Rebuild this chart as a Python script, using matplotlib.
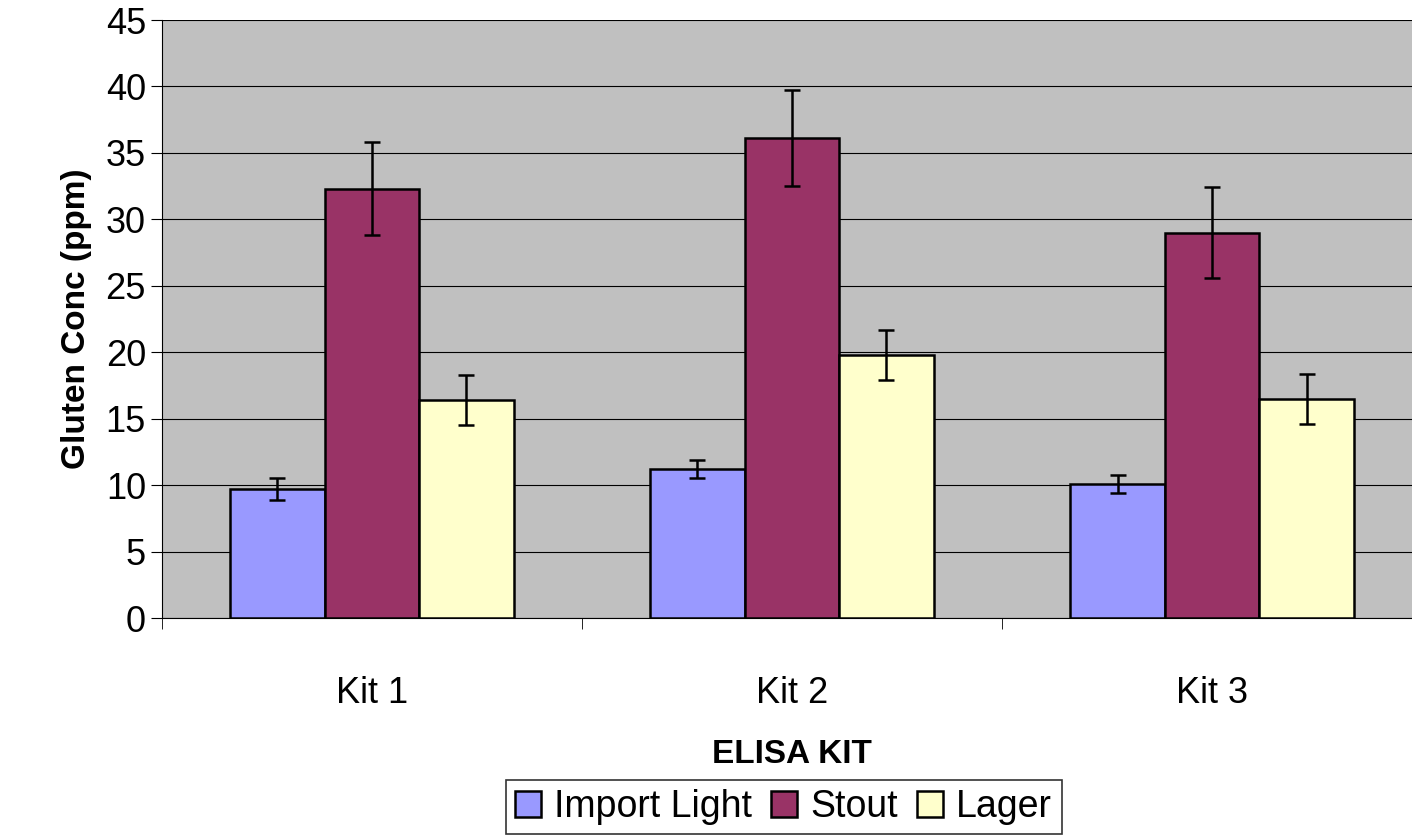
import numpy as np
import matplotlib.pyplot as plt

plt.rcParams['font.family'] = ['Liberation Sans', 'DejaVu Sans']

kits = ['Kit 1', 'Kit 2', 'Kit 3']
series = ['Import Light', 'Stout', 'Lager']
values = [[9.7, 11.2, 10.1], [32.3, 36.1, 29.0], [16.4, 19.8, 16.5]]
errors = [[0.8, 0.7, 0.7], [3.5, 3.6, 3.4], [1.9, 1.9, 1.9]]
colors = ['#9999ff', '#993366', '#ffffcc']

fig = plt.figure(figsize=(14.12, 8.38), dpi=100)
ax = fig.add_axes([0.1147, 0.2625, 0.8924, 0.7136])
ax.set_facecolor('#c0c0c0')

x = np.arange(len(kits))
w = 0.225
for i, s in enumerate(series):
    ax.bar(x + (i - 1) * w, values[i], w, yerr=errors[i], color=colors[i],
           edgecolor='black', linewidth=1.8, label=s, zorder=3,
           error_kw=dict(ecolor='black', elinewidth=1.8, capsize=6, capthick=1.8))

ax.set_xlim(-0.5, 2.5)
ax.set_ylim(0, 45)
ax.set_yticks(range(0, 46, 5))
ax.yaxis.grid(True, color='black', linewidth=0.8, zorder=0)
ax.set_xticks(x)
ax.set_xticklabels(kits)
ax.set_xticks([-0.5, 0.5, 1.5, 2.5], minor=True)
ax.tick_params(axis='x', which='major', length=0, pad=42, labelsize=26)
ax.tick_params(axis='x', which='minor', length=8, direction='out')
ax.tick_params(axis='y', labelsize=26, length=8, direction='out')
for sp in ['top', 'right']:
    ax.spines[sp].set_visible(False)
ax.set_ylabel('Gluten Conc (ppm)', fontsize=24, fontweight='bold', labelpad=10)
ax.set_xlabel('ELISA KIT', fontsize=24, fontweight='bold', labelpad=20)

leg = fig.legend(loc='lower center', bbox_to_anchor=(0.555, -0.018), ncol=3,
                 fontsize=27, frameon=True, fancybox=False, edgecolor='black',
                 handlelength=0.7, handleheight=0.7, handletextpad=0.35,
                 columnspacing=0.5, borderpad=0.25)
leg.get_frame().set_linewidth(1.2)

fig.savefig('out.png', dpi=100)
